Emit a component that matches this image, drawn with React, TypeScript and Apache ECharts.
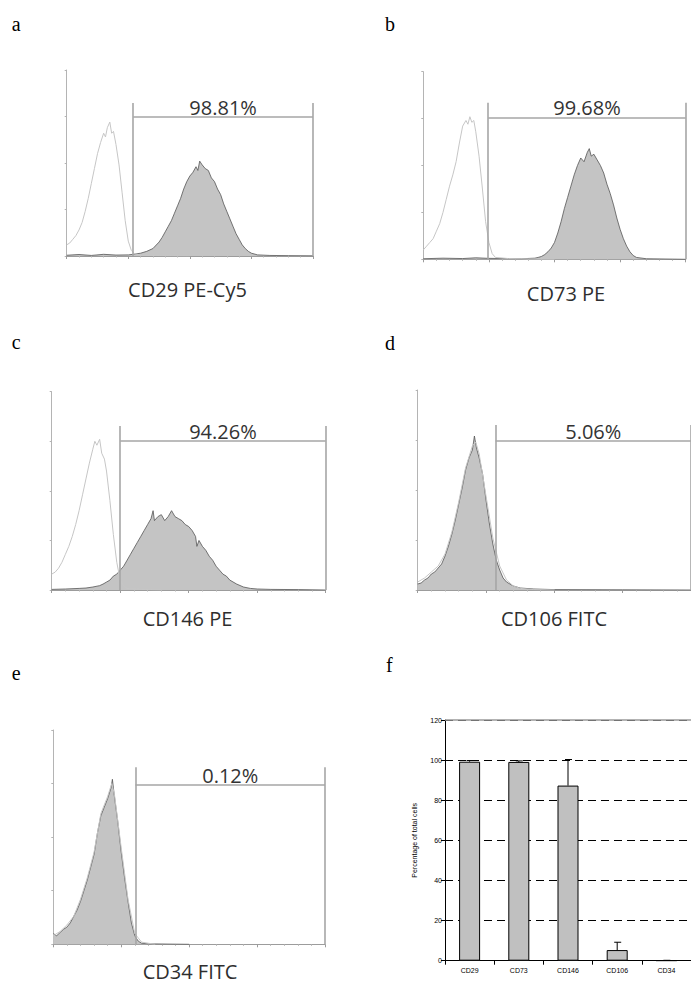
import React, { useEffect, useRef } from "react";
import * as echarts from "echarts";

// ---- Flow cytometry histograms: [log10 decade, % of axis height] ----
const ctrlA = [[0,6],[0.05,7],[0.1,9],[0.15,11],[0.2,14],[0.25,18],[0.3,24],[0.35,31],[0.4,39],[0.45,47],[0.5,55],[0.55,61],[0.6,66],[0.63,64],[0.66,69],[0.7,72],[0.73,66],[0.76,67],[0.8,60],[0.85,49],[0.9,34],[0.95,19],[1.0,8],[1.05,3],[1.1,1.2],[1.2,0.5],[1.5,0.2],[2,0]];
const sampleA = [[0,0.4],[0.2,0.8],[0.4,0.3],[0.6,0.9],[0.8,0.5],[1.0,0.6],[1.1,1],[1.2,1.5],[1.3,2.5],[1.4,4],[1.5,7.5],[1.55,10],[1.6,13],[1.65,16],[1.7,19],[1.75,23],[1.8,27],[1.85,31],[1.9,36],[1.95,40],[2.0,43],[2.05,45],[2.1,48],[2.13,46],[2.16,51],[2.2,49],[2.25,47],[2.3,46],[2.35,42],[2.4,40],[2.45,36],[2.5,33],[2.55,28],[2.6,24],[2.65,20],[2.7,16],[2.75,12],[2.8,9],[2.85,6],[2.9,4],[2.95,2.5],[3.0,1.5],[3.1,0.6],[3.3,0.3],[3.6,0.2],[4,0.1]];

const ctrlB = [[0,5],[0.05,7],[0.1,9],[0.15,11],[0.2,15],[0.25,19],[0.3,25],[0.35,32],[0.4,39],[0.45,45],[0.5,52],[0.55,62],[0.6,71],[0.65,74],[0.68,72],[0.71,76],[0.74,73],[0.77,74],[0.8,68],[0.85,55],[0.9,38],[0.95,20],[1.0,9],[1.05,3],[1.1,1],[1.3,0.4],[1.6,0.2],[2,0]];
const sampleB = [[0,0.3],[0.3,0.6],[0.6,0.4],[0.8,0.8],[1.0,0.5],[1.3,0.4],[1.5,0.3],[1.7,0.6],[1.75,1],[1.8,1.5],[1.85,2.5],[1.9,4],[1.95,6],[2.0,9],[2.05,14],[2.1,20],[2.15,27],[2.2,33],[2.25,39],[2.3,45],[2.35,50],[2.4,54],[2.45,52],[2.5,57],[2.53,59],[2.56,55],[2.6,56],[2.65,53],[2.7,50],[2.75,46],[2.8,40],[2.85,35],[2.9,29],[2.95,22],[3.0,16],[3.05,11],[3.1,7],[3.15,4],[3.2,2],[3.25,1],[3.4,0.3],[4,0]];

const ctrlC = [[0,8],[0.05,9],[0.1,11],[0.15,14],[0.2,18],[0.25,22],[0.3,27],[0.35,33],[0.4,40],[0.45,48],[0.5,56],[0.55,64],[0.6,71],[0.63,75],[0.66,73],[0.7,76],[0.73,69],[0.77,66],[0.8,60],[0.85,45],[0.9,28],[0.95,14],[1.0,5],[1.05,2],[1.1,0.8],[1.3,0.3],[1.6,0]];
const sampleC = [[0,0.3],[0.2,0.5],[0.4,0.8],[0.5,1],[0.6,1.5],[0.7,2.2],[0.75,3],[0.8,4],[0.85,5],[0.9,7],[0.95,8],[1.0,10],[1.05,12],[1.1,15],[1.15,18],[1.2,21],[1.25,24],[1.3,27],[1.35,30],[1.4,33],[1.45,36],[1.48,40],[1.5,35],[1.55,37],[1.6,38],[1.65,35],[1.7,37],[1.75,40],[1.8,37],[1.85,36],[1.9,35],[1.95,33],[2.0,32],[2.05,30],[2.1,27],[2.12,22],[2.15,25],[2.2,22],[2.25,20],[2.3,17],[2.35,15],[2.4,12],[2.45,10],[2.5,8],[2.55,7],[2.6,5],[2.7,3],[2.8,1.5],[2.9,0.8],[3.0,0.5],[3.2,0.3],[3.6,0.2],[4,0]];

const ctrlD = [[0,4],[0.1,6],[0.2,9],[0.3,12],[0.4,18],[0.5,29],[0.6,44],[0.7,61],[0.8,72],[0.85,74],[0.9,68],[1.0,47],[1.1,26],[1.2,12],[1.3,5],[1.4,2],[1.5,0.8],[1.7,0.2],[2,0]];
const sampleD = [[0,3],[0.05,3.5],[0.1,5],[0.15,6],[0.2,8],[0.25,9],[0.3,11],[0.35,13],[0.4,17],[0.45,22],[0.5,28],[0.55,35],[0.6,43],[0.65,51],[0.7,60],[0.75,66],[0.8,70],[0.83,77],[0.86,71],[0.9,66],[0.95,58],[1.0,45],[1.05,33],[1.1,23],[1.15,15],[1.2,10],[1.25,6],[1.3,4],[1.4,2],[1.5,1],[1.7,0.5],[2,0.2],[3,0.1],[4,0]];

const ctrlE = [[0,4],[0.1,6],[0.2,9],[0.3,13],[0.4,21],[0.5,31],[0.6,43],[0.7,61],[0.8,69],[0.86,75],[0.9,70],[1.0,45],[1.1,21],[1.2,5],[1.3,1],[1.5,0]];
const sampleE = [[0,5],[0.05,4],[0.1,5.5],[0.15,7],[0.2,8],[0.25,10],[0.3,13],[0.35,16],[0.4,20],[0.45,25],[0.5,30],[0.55,36],[0.6,42],[0.65,52],[0.7,60],[0.75,64],[0.8,68],[0.85,73],[0.87,77],[0.9,69],[0.95,57],[1.0,43],[1.05,31],[1.1,20],[1.15,10],[1.2,4],[1.25,1.5],[1.3,0.5],[1.4,0.2],[2,0]];

// Gates (decades / % of height)
const gateLeft = [1.08, 0.99, 1.0, 1.14, 1.21];
const gateRight = [4, 4, 4, 4, 4];
const gateBarLevel = [74.7, 75.7, 75.1, 74.5, 74.3];
const gateTopLevel = [82.3, 83.5, 82.7, 82.5, 82.6];
const gatePercents = ["98.81%", "99.68%", "94.26%", "5.06%", "0.12%"];
const markerTitles = ["CD29 PE-Cy5", "CD73 PE", "CD146 PE", "CD106 FITC", "CD34 FITC"];
const panelLetters = ["a", "b", "c", "d", "e", "f"];

// ---- Bar chart (panel f) ----
const barCategories = ["CD29", "CD73", "CD146", "CD106", "CD34"];
const barValues = [99.2, 99.1, 87.3, 5.3, 0.1];
const barErrors = [0.6, 0.5, 13, 3.9, 0.1];

const controls = [ctrlA, ctrlB, ctrlC, ctrlD, ctrlE];
const samples = [sampleA, sampleB, sampleC, sampleD, sampleE];

const GRIDS = [
  { left: 66.7, top: 70, width: 246.3, height: 186 },
  { left: 423.3, top: 71.7, width: 262.4, height: 187.6 },
  { left: 51.7, top: 391.7, width: 274, height: 198.3 },
  { left: 417.7, top: 390, width: 276, height: 200 },
  { left: 53.3, top: 730, width: 271.7, height: 214.3 },
  { left: 445, top: 720, width: 256.5, height: 240.7 },
];
const LETTER_POS = [[11.7, 23.5], [385, 24], [11.7, 342], [385, 343], [11.7, 673], [386, 665]];
const TITLE_POS = [[187.5, 289], [566, 293], [187.5, 618], [554, 618], [190, 971]];

const SANS = '"Open Sans", "Noto Sans", sans-serif';
const ARIAL = '"Liberation Sans", Arial, sans-serif';

export default function App() {
  const ref = useRef<HTMLDivElement>(null);
  useEffect(() => {
    const chart = echarts.init(ref.current!, null, { renderer: "svg" });
    const xAxis: any[] = [];
    const yAxis: any[] = [];
    const series: any[] = [];
    for (let i = 0; i < 5; i++) {
      xAxis.push({
        type: "value", gridIndex: i, min: 0, max: 4, interval: 1,
        axisLine: { show: true, onZero: false, lineStyle: { color: "#9c9c9c", width: 1 } },
        axisTick: { show: true, length: 3, lineStyle: { color: "#9c9c9c" } },
        minorTick: { show: true, splitNumber: 5, length: 1.5, lineStyle: { color: "#b4b4b4" } },
        axisLabel: { show: false }, splitLine: { show: false },
      });
      yAxis.push({
        type: "value", gridIndex: i, min: 0, max: 100, interval: 25,
        axisLine: { show: true, lineStyle: { color: "#b4b4b4", width: 1 } },
        axisTick: { show: true, length: 2, lineStyle: { color: "#b4b4b4" } },
        axisLabel: { show: false }, splitLine: { show: false },
      });
      series.push({
        type: "line", xAxisIndex: i, yAxisIndex: i, data: samples[i],
        symbol: "none", showSymbol: false, silent: true, z: 2,
        lineStyle: { color: "#555", width: 0.8 },
        areaStyle: { color: "#c4c4c4", opacity: 1 },
      });
      const gl = gateLeft[i], gr = gateRight[i], gb = gateBarLevel[i], gt = gateTopLevel[i];
      series.push({
        type: "line", xAxisIndex: i, yAxisIndex: i, data: controls[i],
        symbol: "none", showSymbol: false, silent: true, z: 3,
        lineStyle: { color: "#c6c6c6", width: 1 },
        markLine: {
          silent: true, symbol: ["none", "none"], animation: false,
          lineStyle: { color: "#a6a6a6", width: 1.6, type: "solid" },
          label: { show: false },
          data: [
            [{ coord: [gl, 0] }, { coord: [gl, gt] }],
            [{ coord: [gr, 0] }, { coord: [gr, gt] }],
            [
              {
                coord: [gl, gb],
                label: {
                  show: true, position: "insideMiddleTop", formatter: gatePercents[i],
                  fontSize: 20, fontFamily: SANS, color: "#333", distance: 0,
                },
              },
              { coord: [gr, gb] },
            ],
          ],
        },
      });
    }
    // Bar chart axes
    xAxis.push({
      type: "category", gridIndex: 5, data: barCategories, boundaryGap: true,
      axisLine: { show: true, lineStyle: { color: "#000", width: 1 } },
      axisTick: { show: true, length: 4, alignWithLabel: false, lineStyle: { color: "#000" } },
      axisLabel: { fontSize: 7, color: "#000", fontFamily: ARIAL, margin: 6 },
    });
    yAxis.push({
      type: "value", gridIndex: 5, min: 0, max: 120, interval: 20,
      axisLine: { show: true, lineStyle: { color: "#000", width: 1 } },
      axisTick: { show: true, length: 4, lineStyle: { color: "#000" } },
      axisLabel: { fontSize: 7, color: "#000", fontFamily: ARIAL, margin: 3 },
      splitLine: { show: true, lineStyle: { color: "#000", type: [8, 5], width: 1 } },
      name: "Percentage of total cells", nameLocation: "middle", nameGap: 27,
      nameTextStyle: { fontSize: 7, color: "#000", fontFamily: ARIAL },
    });
    series.push({
      type: "bar", xAxisIndex: 5, yAxisIndex: 5, data: barValues, barWidth: 21, silent: true,
      itemStyle: { color: "#c0c0c0", borderColor: "#000", borderWidth: 1 },
      markLine: {
        silent: true, symbol: ["none", "none"], animation: false, label: { show: false },
        lineStyle: { color: "#9a9a9a", width: 1.6, type: "solid" },
        data: [{ yAxis: 120 }],
      },
    });
    series.push({
      type: "custom", xAxisIndex: 5, yAxisIndex: 5, silent: true, z: 5,
      data: barValues.map((v, i) => [i, v, v + barErrors[i]]),
      renderItem: (params: any, api: any) => {
        const x = api.value(0);
        const lo = api.coord([x, api.value(1)]);
        const hi = api.coord([x, api.value(2)]);
        return {
          type: "group",
          children: [
            { type: "line", shape: { x1: lo[0], y1: lo[1], x2: hi[0], y2: hi[1] }, style: { stroke: "#000", lineWidth: 1 } },
            { type: "line", shape: { x1: hi[0] - 3, y1: hi[1], x2: hi[0] + 4, y2: hi[1] }, style: { stroke: "#000", lineWidth: 1 } },
          ],
        };
      },
    });

    const graphic: any[] = [];
    panelLetters.forEach((t, i) => {
      graphic.push({
        type: "text", x: LETTER_POS[i][0], y: LETTER_POS[i][1], silent: true,
        style: { text: t, font: '20px "Liberation Serif", "Times New Roman", serif', fill: "#000", align: "left", verticalAlign: "middle" },
      });
    });
    markerTitles.forEach((t, i) => {
      graphic.push({
        type: "text", x: TITLE_POS[i][0], y: TITLE_POS[i][1], silent: true,
        style: { text: t, font: `20px ${SANS}`, fill: "#2e2e2e", align: "center", verticalAlign: "middle" },
      });
    });

    chart.setOption({
      animation: false,
      backgroundColor: "#ffffff",
      grid: GRIDS.map((g) => ({ ...g, containLabel: false })),
      xAxis, yAxis, series, graphic,
    });
    return () => chart.dispose();
  }, []);
  return (
    <div
      ref={ref}
      style={{ position: "absolute", left: 0, top: 0, width: 691, height: 983, background: "#fff" }}
    />
  );
}
